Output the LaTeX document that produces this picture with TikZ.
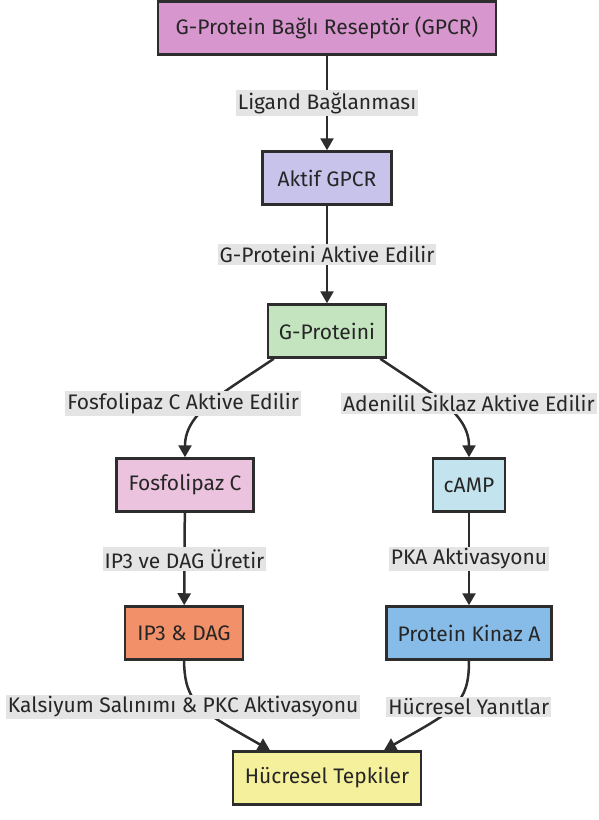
\documentclass[tikz,border=0pt]{standalone}
\usepackage{fontspec}
\setmainfont{Fira Sans}
\usetikzlibrary{arrows.meta}
\definecolor{gpcrC}{RGB}{215,150,205}
\definecolor{aktifC}{RGB}{200,195,235}
\definecolor{gpC}{RGB}{195,228,190}
\definecolor{fcC}{RGB}{235,195,222}
\definecolor{campC}{RGB}{195,228,238}
\definecolor{ipC}{RGB}{242,145,105}
\definecolor{pkaC}{RGB}{135,188,232}
\definecolor{htC}{RGB}{245,240,155}
\definecolor{lblC}{RGB}{228,228,228}
\definecolor{lineC}{RGB}{45,45,45}
\begin{document}
\begin{tikzpicture}[x=1pt,y=-1pt,>={Triangle[length=12pt,width=13pt]},
  box/.style={draw=lineC,line width=2.5pt,minimum height=53pt,inner sep=0pt,
    font=\fontsize{21}{24}\selectfont,text=black!85},
  lbl/.style={fill=lblC,inner sep=2pt,font=\fontsize{21}{24}\selectfont,text=black!85},
  arr/.style={->,line width=2.5pt,draw=lineC}]
\useasboundingbox (0,0) rectangle (598,820);
% boxes
\node[box,fill=gpcrC,minimum width=338pt] (gpcr) at (327,28) {G-Protein Bağlı Reseptör (GPCR)};
\node[box,fill=aktifC,minimum width=129pt] (aktif) at (327,178) {Aktif GPCR};
\node[box,fill=gpC,minimum width=118pt] (gp) at (327,331) {G-Proteini};
\node[box,fill=fcC,minimum width=137pt] (fc) at (185,485) {Fosfolipaz C};
\node[box,fill=campC,minimum width=72pt] (camp) at (469,485) {cAMP};
\node[box,fill=ipC,minimum width=118pt] (ip) at (184,633) {IP3 \& DAG};
\node[box,fill=pkaC,minimum width=165pt] (pka) at (469,633) {Protein Kinaz A};
\node[box,fill=htC,minimum width=188pt] (ht) at (327,778) {Hücresel Tepkiler};
% edges
\draw[arr] (gpcr) -- node[lbl]{Ligand Bağlanması} (aktif);
\draw[arr] (aktif) -- node[lbl]{G-Proteini Aktive Edilir} (gp);
\draw[arr] ([xshift=7]gp.south west) .. controls (225,392) and (185,412) .. (fc.north)
  node[lbl,pos=.5,xshift=-28]{Fosfolipaz C Aktive Edilir};
\draw[arr] ([xshift=-7]gp.south east) .. controls (429,392) and (469,412) .. (camp.north)
  node[lbl,pos=.5,xshift=26]{Adenilil Siklaz Aktive Edilir};
\draw[arr] (fc) -- node[lbl]{IP3 ve DAG Üretir} (ip);
\draw[arr] (camp) -- node[lbl]{PKA Aktivasyonu} (pka);
\draw[arr] (ip.south) .. controls (185,705) and (200,710) .. ([xshift=-57]ht.north)
  node[lbl,pos=.5,xshift=-18]{Kalsiyum Salınımı \& PKC Aktivasyonu};
\draw[arr] (pka.south) .. controls (469,705) and (454,710) .. ([xshift=57]ht.north)
  node[lbl,pos=.5,xshift=16]{Hücresel Yanıtlar};
\end{tikzpicture}
\end{document}
